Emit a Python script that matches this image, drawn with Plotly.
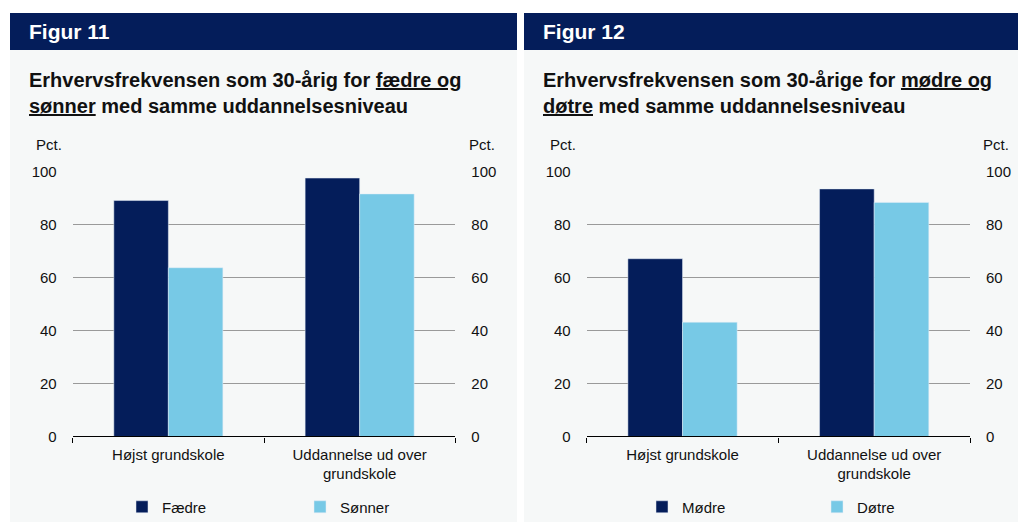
import plotly.graph_objects as go

categories = ["Højst grundskole", "Uddannelse ud over<br>grundskole"]
faedre = [89.2, 97.7]
sonner = [63.8, 91.7]
modre = [67.2, 93.6]
dotre = [43.2, 88.5]
yticks = [0, 20, 40, 60, 80, 100]

NAVY = "#041d5a"
LIGHT = "#77c9e6"
BG = "#f6f8f8"
FONT = "Arial, Liberation Sans, sans-serif"
W, H = 1018, 530

def px(x):
    return x / W

def py(y):
    # compensate for the vertical offset/compression seen in the captured page
    yd = (y - 8.0) / 0.9698
    return 1 - yd / H

fig = go.Figure()
fig.add_trace(go.Bar(name="Fædre", x=categories, y=faedre, marker_color=NAVY,
                     xaxis="x", yaxis="y", legend="legend"))
fig.add_trace(go.Bar(name="Sønner", x=categories, y=sonner, marker_color=LIGHT,
                     xaxis="x", yaxis="y", legend="legend"))
fig.add_trace(go.Bar(name="Mødre", x=categories, y=modre, marker_color=NAVY,
                     xaxis="x2", yaxis="y3", legend="legend2"))
fig.add_trace(go.Bar(name="Døtre", x=categories, y=dotre, marker_color=LIGHT,
                     xaxis="x2", yaxis="y3", legend="legend2"))

tickfont = dict(family=FONT, size=15, color="#111111")

def xax(domain, anchor):
    return dict(domain=domain, anchor=anchor, showline=True, linecolor="black", linewidth=1.3,
                ticks="outside", tickson="boundaries", ticklen=5, tickcolor="black",
                ticklabelstandoff=4,
                tickfont=tickfont, showgrid=False, zeroline=False, fixedrange=True)

def yax(domain, anchor, side="left", overlaying=None, grid=True):
    d = dict(domain=domain, anchor=anchor, range=[0, 100], tickvals=yticks,
             showgrid=grid, gridcolor="#9a9a9a", gridwidth=1, zeroline=False,
             showline=False, ticks="outside", ticklen=12, tickcolor="rgba(0,0,0,0)",
             tickfont=tickfont, side=side, fixedrange=True)
    if overlaying:
        d["overlaying"] = overlaying
    return d

ydom = [max(0, py(436.3)), min(1, py(171.3))]
x1dom = [px(72.7), px(455.3)]
x2dom = [px(586.7), px(970.0)]

fig.update_layout(
    autosize=True,
    margin=dict(l=0, r=0, t=0, b=0),
    paper_bgcolor="rgba(255,255,255,0)", plot_bgcolor="rgba(0,0,0,0)",
    barmode="group", bargap=0.43, bargroupgap=0,
    font=dict(family=FONT, size=15, color="#111111"),
    xaxis=xax(x1dom, "y"),
    yaxis=yax(ydom, "x"),
    yaxis2=yax(ydom, "x", side="right", overlaying="y", grid=False),
    xaxis2=xax(x2dom, "y3"),
    yaxis3=yax(ydom, "x2"),
    yaxis4=yax(ydom, "x2", side="right", overlaying="y3", grid=False),
    legend=dict(orientation="h", x=px(122), y=py(507), xanchor="left", yanchor="middle",
                bgcolor="rgba(0,0,0,0)", entrywidth=133, entrywidthmode="pixels",
                font=dict(family=FONT, size=15, color="#111111"), traceorder="normal"),
    legend2=dict(orientation="h", x=px(642), y=py(507), xanchor="left", yanchor="middle",
                 bgcolor="rgba(0,0,0,0)", entrywidth=130, entrywidthmode="pixels",
                 font=dict(family=FONT, size=15, color="#111111"), traceorder="normal"),
    showlegend=True,
)

# Invisible traces so the right-hand axes are drawn with the same scale
fig.add_trace(go.Scatter(x=categories, y=faedre, xaxis="x", yaxis="y2", mode="markers",
                         marker=dict(opacity=0), showlegend=False, hoverinfo="skip"))
fig.add_trace(go.Scatter(x=categories, y=modre, xaxis="x2", yaxis="y4", mode="markers",
                         marker=dict(opacity=0), showlegend=False, hoverinfo="skip"))

shapes = []
for x0, x1 in [(10, 517), (524, 1018)]:
    shapes.append(dict(type="rect", xref="paper", yref="paper", x0=px(x0), x1=px(x1),
                       y0=0, y1=py(49), fillcolor=BG, line=dict(width=0), layer="below"))
    shapes.append(dict(type="rect", xref="paper", yref="paper", x0=px(x0), x1=px(x1),
                       y0=py(49), y1=py(12), fillcolor=NAVY, line=dict(width=0), layer="below"))
fig.update_layout(shapes=shapes)

annotations = []
def ann(text, x, y, size, color="#111111", xanchor="left"):
    annotations.append(dict(text=text, x=px(x), y=py(y), xref="paper", yref="paper",
                            xanchor=xanchor, yanchor="middle", showarrow=False,
                            font=dict(family=FONT, size=size, color=color)))

ann("<b>Figur 11</b>", 27, 31, 21, color="white")
ann("<b>Figur 12</b>", 541, 31, 21, color="white")
ann("<b>Erhvervsfrekvensen som 30-årig for <u>fædre og</u></b>", 27, 79, 20)
ann("<b><u>sønner</u> med samme uddannelsesniveau</b>", 27, 105.5, 20)
ann("<b>Erhvervsfrekvensen som 30-årige for <u>mødre og</u></b>", 541, 79, 20)
ann("<b><u>døtre</u> med samme uddannelsesniveau</b>", 541, 105.5, 20)
ann("Pct.", 34, 144, 15)
ann("Pct.", 467, 144, 15)
ann("Pct.", 548, 144, 15)
ann("Pct.", 981, 144, 15)
fig.update_layout(annotations=annotations)

post = (
    "var bgc='linear-gradient(to right, #ffffff 0px, #ffffff 10px, #f6f8f8 10px, #f6f8f8 517px,"
    " #ffffff 517px, #ffffff 524px, #f6f8f8 524px, #f6f8f8 100%)';"
    "document.documentElement.style.margin='0';"
    "document.documentElement.style.overflow='hidden';"
    "document.documentElement.style.background=bgc;"
    "document.body.style.margin='0';"
    "document.body.style.overflow='hidden';"
    "var gd=document.getElementById('{plot_id}');"
    "gd.style.position='fixed';gd.style.left='0px';gd.style.top='0px';"
    "gd.style.width='100vw';gd.style.height='100vh';gd.style.background='#ffffff';"
    "Plotly.Plots.resize(gd);"
)
fig.write_html("out.html", post_script=post, default_width="100vw", default_height="100vh",
               config={"displayModeBar": False, "responsive": True})
